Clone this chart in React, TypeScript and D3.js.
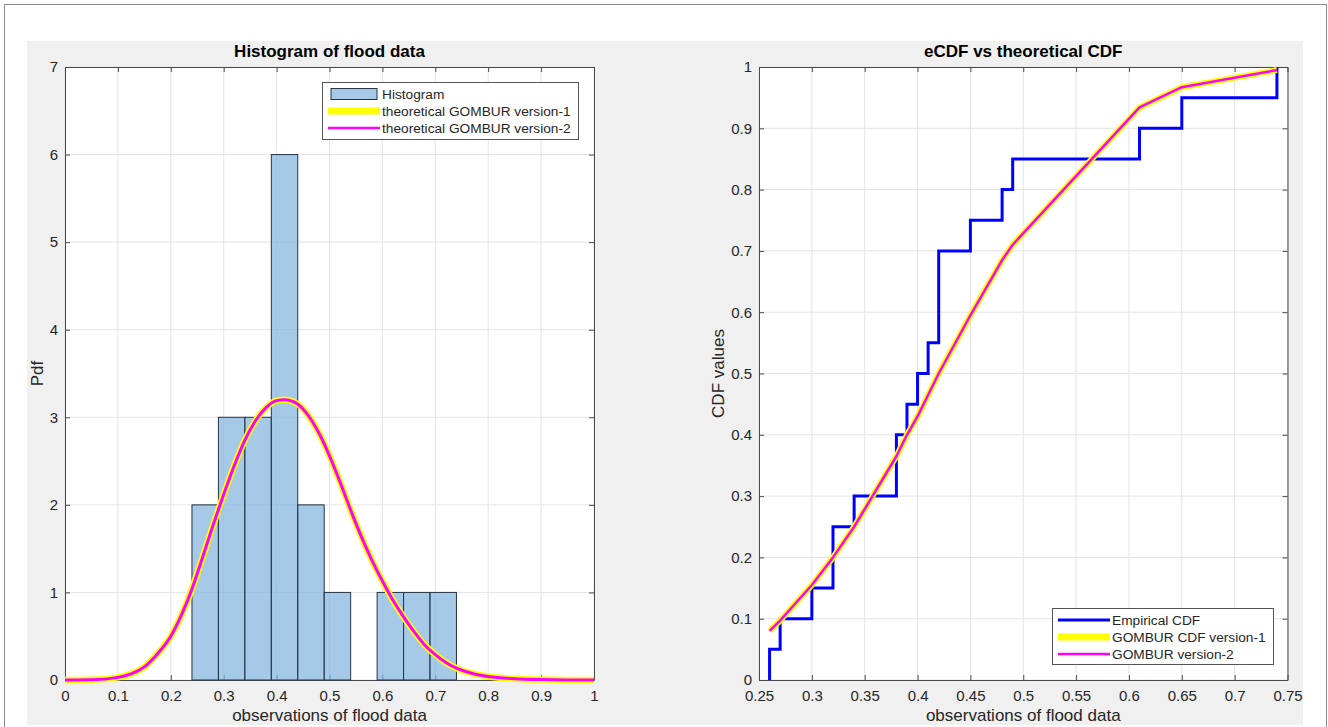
import { useRef, useEffect } from 'react';
import * as d3 from 'd3';

// 20 flood observations, read from the steps of the empirical CDF
const observations = [0.26, 0.27, 0.30, 0.32, 0.32, 0.34, 0.38, 0.38, 0.39, 0.40,
  0.41, 0.42, 0.42, 0.42, 0.45, 0.48, 0.49, 0.61, 0.65, 0.74];

// histogram (pdf normalisation)
const binEdges = [0.24, 0.29, 0.34, 0.39, 0.44, 0.49, 0.54, 0.59, 0.64, 0.69, 0.74];
const binPdf = [2, 3, 3, 6, 2, 1, 0, 1, 1, 1];

// theoretical GOMBUR pdf
const pdfX = [0, 0.05, 0.1, 0.125, 0.15, 0.175, 0.2, 0.22, 0.24, 0.26,
  0.28, 0.3, 0.32, 0.34, 0.36, 0.38, 0.4, 0.415, 0.44, 0.46,
  0.48, 0.5, 0.52, 0.54, 0.56, 0.58, 0.6, 0.62, 0.64, 0.66,
  0.68, 0.7, 0.72, 0.74, 0.77, 0.8, 0.85, 0.9, 0.95, 1];
const pdfY = [0, 0.002, 0.03, 0.07, 0.15, 0.3, 0.5, 0.74, 1.04, 1.4,
  1.77, 2.12, 2.45, 2.74, 2.96, 3.11, 3.19, 3.2, 3.15, 3.02,
  2.82, 2.56, 2.26, 1.94, 1.64, 1.37, 1.13, 0.91, 0.72, 0.55,
  0.4, 0.29, 0.2, 0.135, 0.075, 0.04, 0.015, 0.005, 0.001, 0];

// theoretical GOMBUR cdf at the observations
const cdfX = [0.26, 0.27, 0.30, 0.32, 0.34, 0.38, 0.39, 0.40, 0.41, 0.42, 0.45, 0.48, 0.49, 0.61, 0.65, 0.74];
const cdfY = [0.08, 0.097, 0.155, 0.20, 0.25, 0.365, 0.40, 0.43, 0.465, 0.50, 0.595, 0.685, 0.71, 0.934, 0.967, 0.995];

const histXTicks = [0, 0.1, 0.2, 0.3, 0.4, 0.5, 0.6, 0.7, 0.8, 0.9, 1];
const histYTicks = [0, 1, 2, 3, 4, 5, 6, 7];
const cdfXTicks = [0.25, 0.3, 0.35, 0.4, 0.45, 0.5, 0.55, 0.6, 0.65, 0.7, 0.75];
const cdfYTicks = [0, 0.1, 0.2, 0.3, 0.4, 0.5, 0.6, 0.7, 0.8, 0.9, 1];

const histLegend = ['Histogram', 'theoretical GOMBUR version-1', 'theoretical GOMBUR version-2'];
const cdfLegend = ['Empirical CDF', 'GOMBUR CDF version-1', 'GOMBUR version-2'];

const FONT = '"Liberation Sans", Arial, Helvetica, sans-serif';
const TEXT = '#262626';
const AXIS = '#4a4a4a';
const GRID = '#e4e4e4';
const BAR_FILL = '#7fb2dd';
const BAR_EDGE = '#263445';

type G = d3.Selection<SVGGElement, unknown, null, undefined>;
type Lin = d3.ScaleLinear<number, number>;

// MATLAB-like box with grid and inward ticks
function drawFrame(g: G, x: Lin, y: Lin, xTicks: number[], yTicks: number[],
  title: string, xLabel: string, yLabel: string, yLabelX: number) {
  const [x0, x1] = x.range();
  const [y0, y1] = y.range();
  const fmt = d3.format('~g');

  g.append('rect')
    .attr('x', x0).attr('y', y1)
    .attr('width', x1 - x0).attr('height', y0 - y1)
    .attr('fill', '#fff');

  // grid
  g.append('g').selectAll('line').data(xTicks).join('line')
    .attr('x1', d => x(d)).attr('x2', d => x(d))
    .attr('y1', y1).attr('y2', y0)
    .attr('stroke', GRID);
  g.append('g').selectAll('line').data(yTicks).join('line')
    .attr('x1', x0).attr('x2', x1)
    .attr('y1', d => y(d)).attr('y2', d => y(d))
    .attr('stroke', GRID);

  const style = (a: G) => a
    .attr('font-size', 15)
    .attr('font-family', FONT)
    .style('color', AXIS)
    .call(s => s.selectAll('text').attr('fill', TEXT));

  g.append('g').attr('transform', `translate(0,${y0})`)
    .call(d3.axisBottom(x).tickValues(xTicks).tickFormat(d => fmt(d as number))
      .tickSizeInner(-5).tickSizeOuter(0).tickPadding(10))
    .call(style);
  g.append('g').attr('transform', `translate(0,${y1})`)
    .call(d3.axisTop(x).tickValues(xTicks).tickFormat(() => '')
      .tickSizeInner(-5).tickSizeOuter(0))
    .call(style);
  g.append('g').attr('transform', `translate(${x0},0)`)
    .call(d3.axisLeft(y).tickValues(yTicks).tickFormat(d => fmt(d as number))
      .tickSizeInner(-5).tickSizeOuter(0).tickPadding(7))
    .call(style);
  g.append('g').attr('transform', `translate(${x1},0)`)
    .call(d3.axisRight(y).tickValues(yTicks).tickFormat(() => '')
      .tickSizeInner(-5).tickSizeOuter(0))
    .call(style);

  const cx = (x0 + x1) / 2;
  g.append('text')
    .attr('x', cx).attr('y', 57)
    .attr('text-anchor', 'middle')
    .attr('font-family', FONT).attr('font-size', 17).attr('font-weight', 'bold')
    .attr('fill', '#000')
    .text(title);
  g.append('text')
    .attr('x', cx).attr('y', 721)
    .attr('text-anchor', 'middle')
    .attr('font-family', FONT).attr('font-size', 17)
    .attr('fill', TEXT)
    .text(xLabel);
  g.append('text')
    .attr('transform', `translate(${yLabelX},${(y0 + y1) / 2}) rotate(-90)`)
    .attr('text-anchor', 'middle')
    .attr('font-family', FONT).attr('font-size', 17)
    .attr('fill', TEXT)
    .text(yLabel);
}

interface LegendItem { label: string; kind: 'patch' | 'line'; color: string; width?: number }

function drawLegend(g: G, bx: number, by: number, bw: number, bh: number, items: LegendItem[]) {
  const lg = g.append('g');
  lg.append('rect')
    .attr('x', bx + 0.5).attr('y', by + 0.5)
    .attr('width', bw).attr('height', bh)
    .attr('fill', '#fff').attr('stroke', '#555');
  const rowH = 17;
  const first = by + 12;
  items.forEach((it, i) => {
    const cy = first + i * rowH;
    if (it.kind === 'patch') {
      lg.append('rect')
        .attr('x', bx + 9).attr('y', cy - 5.5)
        .attr('width', 46).attr('height', 11)
        .attr('fill', it.color).attr('fill-opacity', 0.7)
        .attr('stroke', BAR_EDGE);
    } else {
      lg.append('line')
        .attr('x1', bx + 6).attr('x2', bx + 58)
        .attr('y1', cy).attr('y2', cy)
        .attr('stroke', it.color).attr('stroke-width', it.width ?? 2);
    }
    lg.append('text')
      .attr('x', bx + 60).attr('y', cy).attr('dy', '0.35em')
      .attr('font-family', FONT).attr('font-size', 13.7)
      .attr('fill', TEXT)
      .text(it.label);
  });
}

export default function App() {
  const svgRef = useRef<SVGSVGElement | null>(null);
  const width = 1328;
  const height = 727;

  useEffect(() => {
    const svg = d3.select(svgRef.current);
    svg.selectAll('*').remove();

    // figure background + outer frame
    svg.append('rect')
      .attr('x', 4.5).attr('y', 4.5).attr('width', 1322).attr('height', 760)
      .attr('fill', '#fff').attr('stroke', '#8c8c8c');
    svg.append('rect')
      .attr('x', 27).attr('y', 41).attr('width', 1276).attr('height', 684)
      .attr('fill', '#f0f0f0');

    // ---------------- left: histogram ----------------
    const gl = svg.append('g') as unknown as G;
    const xh = d3.scaleLinear().domain([0, 1]).range([65, 594]);
    const yh = d3.scaleLinear().domain([0, 7]).range([680, 67]);
    drawFrame(gl, xh, yh, histXTicks, histYTicks,
      'Histogram of flood data', 'observations of flood data', 'Pdf', 43);

    gl.append('g').selectAll('rect').data(binPdf).join('rect')
      .attr('x', (_, i) => xh(binEdges[i]))
      .attr('width', (_, i) => xh(binEdges[i + 1]) - xh(binEdges[i]))
      .attr('y', d => yh(d))
      .attr('height', d => yh(0) - yh(d))
      .attr('fill', BAR_FILL).attr('fill-opacity', 0.7)
      .attr('stroke', BAR_EDGE).attr('stroke-width', 1);

    const pdfPts = pdfX.map((v, i) => [v, pdfY[i]] as [number, number]);
    const pdfLine = d3.line<[number, number]>()
      .x(d => xh(d[0])).y(d => yh(d[1]))
      .curve(d3.curveMonotoneX);
    gl.append('path').attr('d', pdfLine(pdfPts))
      .attr('fill', 'none').attr('stroke', '#ffff00').attr('stroke-width', 6.5);
    gl.append('path').attr('d', pdfLine(pdfPts))
      .attr('fill', 'none').attr('stroke', '#ff00ff').attr('stroke-width', 3);

    drawLegend(gl, 322, 82, 256, 57, [
      { label: histLegend[0], kind: 'patch', color: BAR_FILL },
      { label: histLegend[1], kind: 'line', color: '#ffff00', width: 7 },
      { label: histLegend[2], kind: 'line', color: '#ff00ff', width: 2.5 },
    ]);

    // ---------------- right: eCDF ----------------
    const gr = svg.append('g') as unknown as G;
    const xc = d3.scaleLinear().domain([0.25, 0.75]).range([759, 1287.5]);
    const yc = d3.scaleLinear().domain([0, 1]).range([680, 67]);
    drawFrame(gr, xc, yc, cdfXTicks, cdfYTicks,
      'eCDF vs theoretical CDF', 'observations of flood data', 'CDF values', 724);

    // empirical CDF steps
    const sorted = observations.slice().sort(d3.ascending);
    const n = sorted.length;
    const uniq = Array.from(new Set(sorted));
    const ecdfPts: [number, number][] = [[uniq[0], 0]];
    uniq.forEach(v => {
      ecdfPts.push([v, sorted.filter(o => o <= v).length / n]);
    });
    const stepLine = d3.line<[number, number]>()
      .x(d => xc(d[0])).y(d => yc(d[1]))
      .curve(d3.curveStepAfter);
    gr.append('path').attr('d', stepLine(ecdfPts))
      .attr('fill', 'none').attr('stroke', '#0000ff').attr('stroke-width', 3);

    const cdfPts = cdfX.map((v, i) => [v, cdfY[i]] as [number, number]);
    const cdfLine = d3.line<[number, number]>()
      .x(d => xc(d[0])).y(d => yc(d[1]));
    gr.append('path').attr('d', cdfLine(cdfPts))
      .attr('fill', 'none').attr('stroke', '#ffff00').attr('stroke-width', 6)
      .attr('stroke-linejoin', 'round');
    gr.append('path').attr('d', cdfLine(cdfPts))
      .attr('fill', 'none').attr('stroke', '#ff00ff').attr('stroke-width', 2.5)
      .attr('stroke-linejoin', 'round');

    drawLegend(gr, 1052, 608, 221, 56, [
      { label: cdfLegend[0], kind: 'line', color: '#0000ff', width: 3 },
      { label: cdfLegend[1], kind: 'line', color: '#ffff00', width: 7 },
      { label: cdfLegend[2], kind: 'line', color: '#ff00ff', width: 2.5 },
    ]);
  }, []);

  return (
    <svg ref={svgRef} width={width} height={height}
      style={{ position: 'absolute', left: 0, top: 0, display: 'block' }} />
  );
}
